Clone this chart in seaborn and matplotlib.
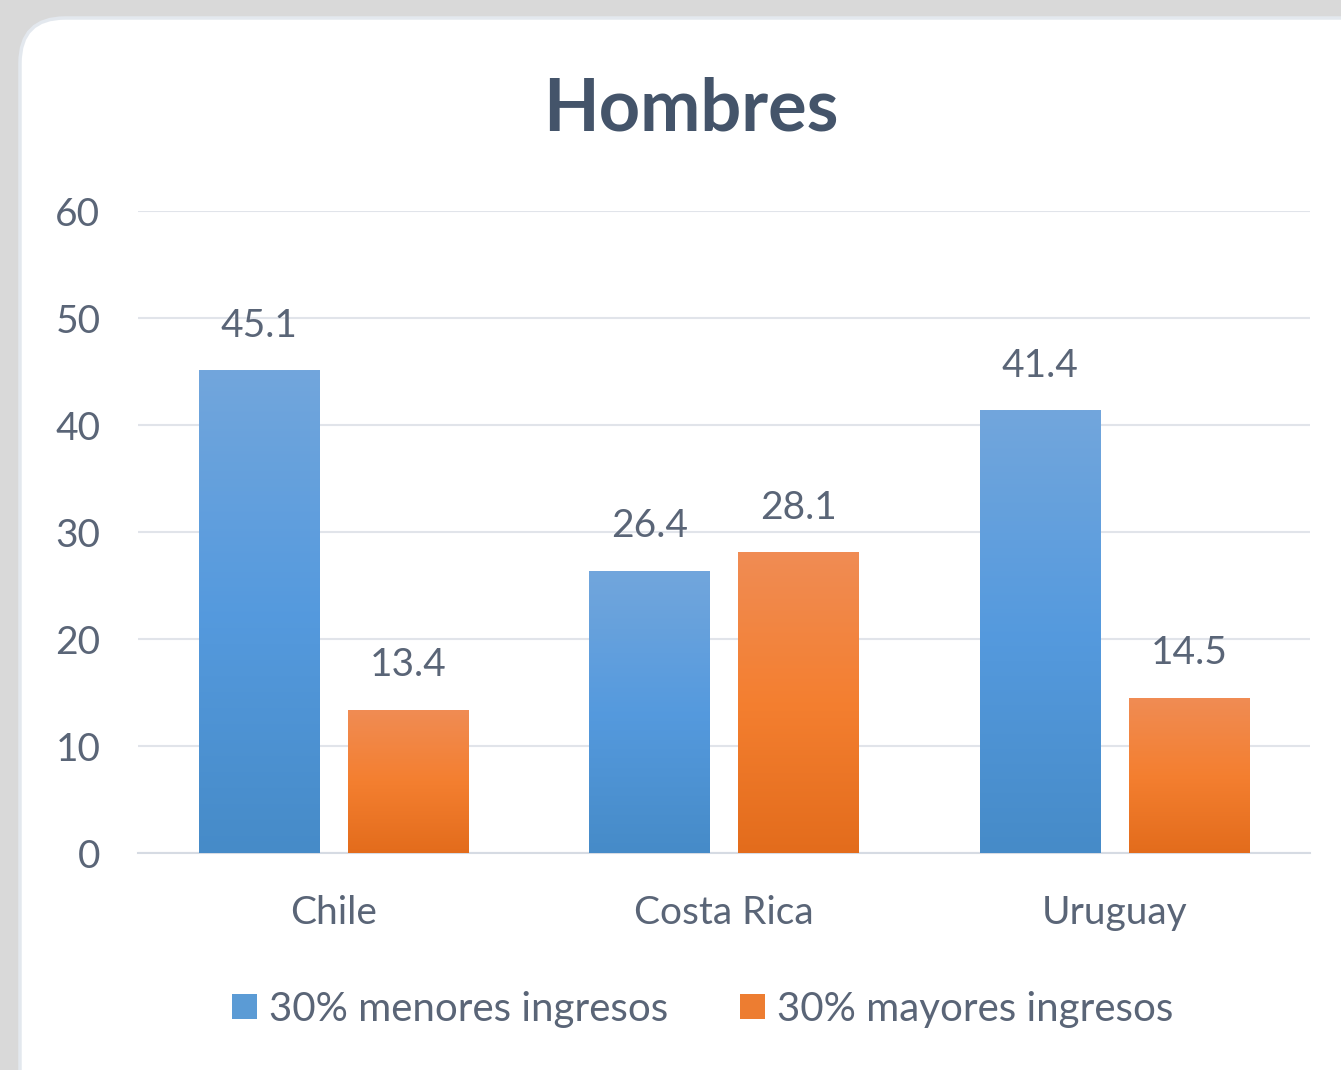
import numpy as np
import pandas as pd
import seaborn as sns
import matplotlib.pyplot as plt
from matplotlib.patches import FancyBboxPatch, Patch
from matplotlib.colors import LinearSegmentedColormap

# data
paises = ["Chile", "Costa Rica", "Uruguay"]
menores = [45.1, 26.4, 41.4]
mayores = [13.4, 28.1, 14.5]
series = ["30% menores ingresos", "30% mayores ingresos"]
titulo = "Hombres"
yticks = [0, 10, 20, 30, 40, 50, 60]

df = pd.DataFrame({
    "pais": paises * 2,
    "valor": menores + mayores,
    "serie": [series[0]] * 3 + [series[1]] * 3,
})

sns.set_style("white")
plt.rcParams["font.family"] = ["Lato", "DejaVu Sans"]
txt = "#5a6577"

fig = plt.figure(figsize=(13.41, 10.70), dpi=100)
fig.patch.set_facecolor("#d9d9d9")
panel = FancyBboxPatch((0.2, -0.5), 13.71, 11.02,
                       boxstyle="round,pad=0,rounding_size=0.45",
                       transform=fig.dpi_scale_trans, facecolor="white",
                       edgecolor="#e3e8ee", linewidth=2.5, zorder=-10)
fig.add_artist(panel)

ax = fig.add_axes([0.1029, 0.2028, 0.874, 0.600])
ax.set_facecolor("none")

sns.barplot(data=df, x="pais", y="valor", hue="serie", order=paises,
            hue_order=series, palette=["#5b9bd5", "#ed7d31"],
            width=0.764, gap=0.194, legend=False, ax=ax, zorder=3)

# gradient fill inside each bar
cmaps = [LinearSegmentedColormap.from_list("b", ["#468bc8", "#559ade", "#72a6dc"]),
         LinearSegmentedColormap.from_list("o", ["#e36c1c", "#f47f30", "#f08c54"])]
grad = np.linspace(0, 1, 256).reshape(-1, 1)
for i, cont in enumerate(ax.containers):
    for bar in cont:
        x0, w, h = bar.get_x(), bar.get_width(), bar.get_height()
        im = ax.imshow(grad, extent=[x0, x0 + w, 0, h], origin="lower",
                       aspect="auto", cmap=cmaps[i], zorder=3)
        im.set_clip_path(bar)
        bar.set_facecolor("none")
        bar.set_edgecolor("none")
    ax.bar_label(cont, fmt="%.1f", padding=19, fontsize=28, color=txt)

ax.set_xlim(-0.5, 2.5)
ax.set_ylim(0, 60)
ax.set_yticks(yticks)
ax.grid(axis="y", color="#e1e4ea", linewidth=1.5, zorder=0)
ax.set_axisbelow(True)
for s in ["top", "right", "left"]:
    ax.spines[s].set_visible(False)
ax.spines["bottom"].set_color("#d6dbe3")
ax.spines["bottom"].set_linewidth(1.5)
ax.tick_params(axis="both", length=0, labelsize=28, labelcolor=txt)
ax.tick_params(axis="y", pad=27)
ax.tick_params(axis="x", pad=30)
ax.set_xlabel("")
ax.set_ylabel("")

fig.text(0.515, 0.897, titulo, ha="center", va="center", fontsize=52,
         fontweight="bold", color="#44546a")

handles = [Patch(facecolor="#5b9bd5", edgecolor="none"),
           Patch(facecolor="#ed7d31", edgecolor="none")]
fig.legend(handles, series, loc="center", bbox_to_anchor=(0.524, 0.057),
           ncol=2, frameon=False, fontsize=29, labelcolor=txt,
           handlelength=0.6, handleheight=0.6, handletextpad=0.3,
           columnspacing=1.8)

fig.savefig("out.png", dpi=100, facecolor=fig.get_facecolor())
